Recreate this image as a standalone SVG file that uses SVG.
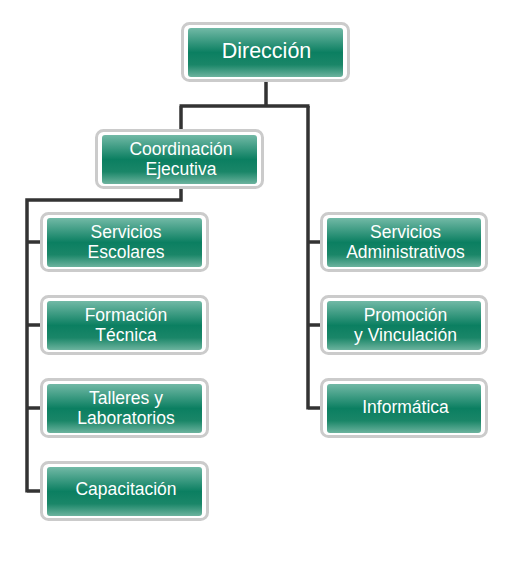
<svg xmlns="http://www.w3.org/2000/svg" width="513" height="570" viewBox="0 0 513 570">
<defs>
<linearGradient id="g" x1="0" y1="0" x2="0" y2="1">
<stop offset="0" stop-color="#72b9a6"/>
<stop offset="0.5" stop-color="#0b7f61"/>
<stop offset="0.75" stop-color="#1a8668"/>
<stop offset="1" stop-color="#6cb39e"/>
</linearGradient>
</defs>
<style>
.o{fill:#fff;stroke:#cbcbcb;stroke-width:3}
.i{fill:url(#g)}
.t{font-family:"Liberation Sans",Arial,sans-serif;font-size:17.5px;fill:#fff;text-anchor:middle}
.d{font-size:21.5px}
.c{fill:none;stroke:#333;stroke-width:3.5}
</style>
<rect width="513" height="570" fill="#fff"/>
<g id="connectors">
<path class="c" d="M266 81 V106 M179.5 106 H309.5 M181 106 V130"/>
<path class="c" d="M181 188 V200 H27 V492.5 M27 242 H41 M27 325 H41 M27 408 H41 M27 491 H41"/>
<path class="c" d="M308 106 V409.5 M308 242 H321 M308 325 H321 M308 408 H321"/>
</g>
<g id="direccion">
<rect class="o" x="182.5" y="23.5" width="166" height="57" rx="7"/>
<rect class="i" x="188" y="28" width="155" height="49" rx="3"/>
<text class="t d" x="266.5" y="57.5">Dirección</text>
</g>
<g id="coordinacion">
<rect class="o" x="96.5" y="130.5" width="166" height="57" rx="7"/>
<rect class="i" x="102" y="135" width="155" height="49" rx="3"/>
<text class="t" x="181" y="155">Coordinación</text>
<text class="t" x="181" y="174.5">Ejecutiva</text>
</g>
<g id="servicios-escolares">
<rect class="o" x="41.5" y="213.5" width="166" height="57" rx="7"/>
<rect class="i" x="47" y="218" width="155" height="49" rx="3"/>
<text class="t" x="126" y="238">Servicios</text>
<text class="t" x="126" y="258">Escolares</text>
</g>
<g id="formacion-tecnica">
<rect class="o" x="41.5" y="296.5" width="166" height="57" rx="7"/>
<rect class="i" x="47" y="301" width="155" height="49" rx="3"/>
<text class="t" x="126" y="321">Formación</text>
<text class="t" x="126" y="341">Técnica</text>
</g>
<g id="talleres">
<rect class="o" x="41.5" y="379.5" width="166" height="57" rx="7"/>
<rect class="i" x="47" y="384" width="155" height="49" rx="3"/>
<text class="t" x="126" y="404">Talleres y</text>
<text class="t" x="126" y="424">Laboratorios</text>
</g>
<g id="capacitacion">
<rect class="o" x="41.5" y="462.5" width="166" height="57" rx="7"/>
<rect class="i" x="47" y="467" width="155" height="49" rx="3"/>
<text class="t" x="126" y="495">Capacitación</text>
</g>
<g id="servicios-administrativos">
<rect class="o" x="321.5" y="213.5" width="165" height="57" rx="7"/>
<rect class="i" x="327" y="218" width="154" height="49" rx="3"/>
<text class="t" x="405.5" y="238">Servicios</text>
<text class="t" x="405.5" y="258">Administrativos</text>
</g>
<g id="promocion">
<rect class="o" x="321.5" y="296.5" width="165" height="57" rx="7"/>
<rect class="i" x="327" y="301" width="154" height="49" rx="3"/>
<text class="t" x="405.5" y="321">Promoción</text>
<text class="t" x="405.5" y="341">y Vinculación</text>
</g>
<g id="informatica">
<rect class="o" x="321.5" y="379.5" width="165" height="57" rx="7"/>
<rect class="i" x="327" y="384" width="154" height="49" rx="3"/>
<text class="t" x="405.5" y="413">Informática</text>
</g>
</svg>
